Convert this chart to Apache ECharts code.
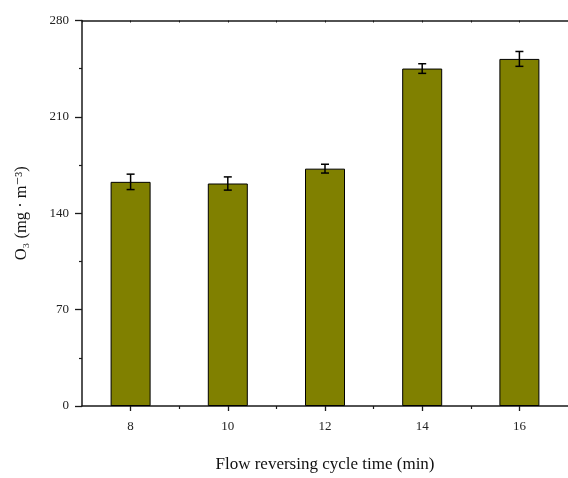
<!DOCTYPE html>
<html>
<head>
<meta charset="utf-8">
<script src="https://cdn.jsdelivr.net/npm/echarts@6/dist/echarts.min.js"></script>
<style>
  html, body { margin: 0; padding: 0; background: #fff; }
  #chart { width: 568px; height: 478px; }
</style>
</head>
<body>
<div id="chart"></div>
<script>
// Flow reversing cycle time (min) and measured O3 concentration
const cycleTimes = [8, 10, 12, 14, 16];
const o3Values = [162.8, 161.6, 172.4, 245.1, 252.1];
const o3Errors = [5.6, 4.8, 3.2, 3.5, 5.4];
const yTicks = [0, 70, 140, 210, 280];
const xLabelTicks = [8, 10, 12, 14, 16];
const xMinorTicks = [9, 11, 13, 15];

const FONT = '"Liberation Serif", "DejaVu Serif", serif';
const AXIS_COLOR = '#1a1a1a';

const barData = cycleTimes.map((t, i) => [t, o3Values[i]]);
const errData = cycleTimes.map((t, i) => [t, o3Values[i] - o3Errors[i], o3Values[i] + o3Errors[i]]);

const chart = echarts.init(document.getElementById('chart'), null, { renderer: 'canvas' });

const baseX = {
  type: 'value', min: 7, max: 17, interval: 1,
  splitLine: { show: false }
};

chart.setOption({
  animation: false,
  backgroundColor: '#ffffff',
  grid: { left: 82, top: 20.5, width: 493, height: 389, containLabel: false },
  xAxis: [
    Object.assign({}, baseX, {
      position: 'bottom',
      name: 'Flow reversing cycle time (min)',
      nameLocation: 'middle',
      nameGap: 50,
      nameTextStyle: { fontFamily: FONT, fontSize: 17, color: '#111' },
      axisLine: { show: true, lineStyle: { color: AXIS_COLOR, width: 1.5 } },
      axisTick: { show: true, customValues: xLabelTicks, length: 5, lineStyle: { color: AXIS_COLOR, width: 1.3 } },
      axisLabel: { show: true, customValues: xLabelTicks, margin: 14, fontFamily: FONT, fontSize: 13, color: '#222' }
    }),
    Object.assign({}, baseX, {
      position: 'bottom',
      axisLine: { show: false },
      axisTick: { show: true, customValues: xMinorTicks, length: 3, lineStyle: { color: AXIS_COLOR, width: 1.2 } },
      axisLabel: { show: false }
    }),
    Object.assign({}, baseX, {
      position: 'top',
      axisLine: { show: true, lineStyle: { color: AXIS_COLOR, width: 1.5 } },
      axisTick: { show: true, inside: true, length: 2, lineStyle: { color: AXIS_COLOR, width: 1 } },
      axisLabel: { show: false }
    })
  ],
  yAxis: {
    type: 'value', min: 0, max: 280, interval: 70,
    name: 'O₃ (mg · m⁻³)',
    nameLocation: 'middle',
    nameRotate: 90,
    nameGap: 52,
    nameTextStyle: { fontFamily: FONT, fontSize: 16.5, color: '#111' },
    axisLine: { show: true, lineStyle: { color: AXIS_COLOR, width: 1.5 } },
    axisTick: { show: true, length: 7, lineStyle: { color: AXIS_COLOR, width: 1.3 } },
    minorTick: { show: true, splitNumber: 2, length: 3, lineStyle: { color: AXIS_COLOR, width: 1.2 } },
    axisLabel: {
      margin: 13, fontFamily: FONT, fontSize: 13, color: '#222',
      customValues: yTicks
    },
    splitLine: { show: false }
  },
  series: [
    {
      type: 'bar',
      xAxisIndex: 0,
      data: barData,
      barWidth: 40,
      itemStyle: { color: '#808000', borderColor: '#000', borderWidth: 1 }
    },
    {
      type: 'custom',
      xAxisIndex: 0,
      data: errData,
      encode: { x: 0, y: [1, 2] },
      z: 5,
      renderItem: function (params, api) {
        const x = api.value(0);
        const lo = api.coord([x, api.value(1)]);
        const hi = api.coord([x, api.value(2)]);
        const cap = 4;
        const style = { stroke: '#000', lineWidth: 1.5 };
        return {
          type: 'group',
          children: [
            { type: 'line', shape: { x1: lo[0], y1: lo[1], x2: hi[0], y2: hi[1] }, style: style },
            { type: 'line', shape: { x1: lo[0] - cap, y1: lo[1], x2: lo[0] + cap, y2: lo[1] }, style: style },
            { type: 'line', shape: { x1: hi[0] - cap, y1: hi[1], x2: hi[0] + cap, y2: hi[1] }, style: style }
          ]
        };
      }
    }
  ]
});
</script>
</body>
</html>
